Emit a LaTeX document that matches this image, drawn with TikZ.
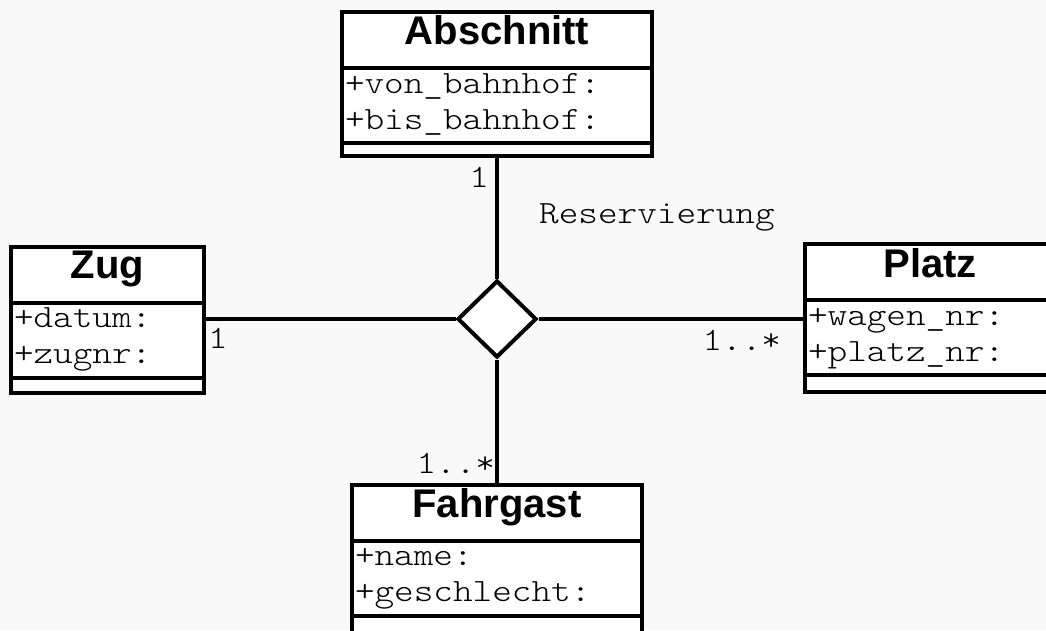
\documentclass[tikz,border=0pt]{standalone}
\usepackage{fontspec}
\setsansfont{Liberation Sans}
\setmonofont{lmmonolt10-regular}[Extension=.otf, FakeStretch=1.15]
\usetikzlibrary{shapes.geometric, positioning}

\definecolor{hintergrund}{RGB}{249,249,249}

% Streben fuer feste Zeilenabstaende in den Klassen
\newcommand*\kopfstrut{\rule[-19pt]{0pt}{37pt}}
\newcommand*\attroben{\rule{0pt}{25pt}}
\newcommand*\attrunten{\rule[-14pt]{0pt}{0pt}}

\tikzset{
  kasten/.style={draw, line width=4pt, fill=white, inner ysep=0pt, outer sep=0pt},
  klassenkopf/.style={kasten, inner xsep=0pt, minimum height=56pt,
    font=\sffamily\bfseries\fontsize{40pt}{44pt}\selectfont},
  klassenattr/.style={kasten, inner xsep=3pt, align=left, minimum height=75pt,
    font=\ttfamily\fontsize{32.5pt}{36pt}\selectfont},
  klassenrest/.style={kasten, minimum height=15pt},
  raute/.style={diamond, draw, line width=4pt, fill=white, minimum width=79pt,
    minimum height=77pt, inner sep=0pt},
  verbindung/.style={draw, line width=4pt},
  rolle/.style={font=\ttfamily\fontsize{32.5pt}{36pt}\selectfont, inner sep=2pt}
}

\begin{document}
\begin{tikzpicture}[x=1pt, y=1pt]

    \useasboundingbox (0,0) rectangle (1046,-630);
    \clip (0,0) rectangle (1046,-630);
    \fill[hintergrund] (0,0) rectangle (1046,-630);

    \node[raute] (reservierung) at (497,-319) {};

    % Abschnitt
    \node[klassenkopf, minimum width=310pt] (abschnitt) at (497,-40) {\kopfstrut Abschnitt};
    \node[klassenattr, text width=304pt] (abschnitt attr) [below=0pt of abschnitt]
        {\attroben+von\_bahnhof:\\+bis\_bahnhof:\attrunten};
    \node[klassenrest, minimum width=310pt, minimum height=13pt] (abschnitt rest) [below=0pt of abschnitt attr] {};

    % Zug
    \node[klassenkopf, minimum width=193pt] (zug) at (107.5,-274.5) {\kopfstrut Zug};
    \node[klassenattr, text width=187pt] (zug attr) [below=0pt of zug]
        {\attroben+datum:\\+zugnr:\attrunten};
    \node[klassenrest, minimum width=193pt] (zug rest) [below=0pt of zug attr] {};

    % Platz
    \node[klassenkopf, minimum width=250pt] (platz) at (930,-272) {\kopfstrut Platz};
    \node[klassenattr, text width=244pt] (platz attr) [below=0pt of platz]
        {\attroben+wagen\_nr:\\+platz\_nr:\attrunten};
    \node[klassenrest, minimum width=250pt, minimum height=17pt] (platz rest) [below=0pt of platz attr] {};

    % Fahrgast
    \node[klassenkopf, minimum width=290pt] (fahrgast) at (497,-512.5) {\kopfstrut Fahrgast};
    \node[klassenattr, text width=284pt] (fahrgast attr) [below=0pt of fahrgast]
        {\attroben+name:\\+geschlecht:\attrunten};
    \node[klassenrest, minimum width=290pt, minimum height=20pt] (fahrgast rest) [below=0pt of fahrgast attr] {};

    \path[verbindung]
    (abschnitt rest) -- node[rolle, pos=0, anchor=base east, xshift=-4pt, yshift=-31pt] {1} (reservierung)
    (reservierung -| zug attr.east) -- node[rolle, pos=0, anchor=base west, yshift=-29pt] {1} (reservierung)
    (reservierung -| platz attr.west) -- node[rolle, pos=0, anchor=base east, xshift=-20pt, yshift=-31pt] {1..*} (reservierung)
    (fahrgast) -- node[rolle, pos=0, anchor=base east, xshift=2pt, yshift=11.5pt] {1..*} (reservierung);

    \node[rolle, anchor=base west] (name) at ([shift={(40,55)}]reservierung.north) {Reservierung};

\end{tikzpicture}
\end{document}
